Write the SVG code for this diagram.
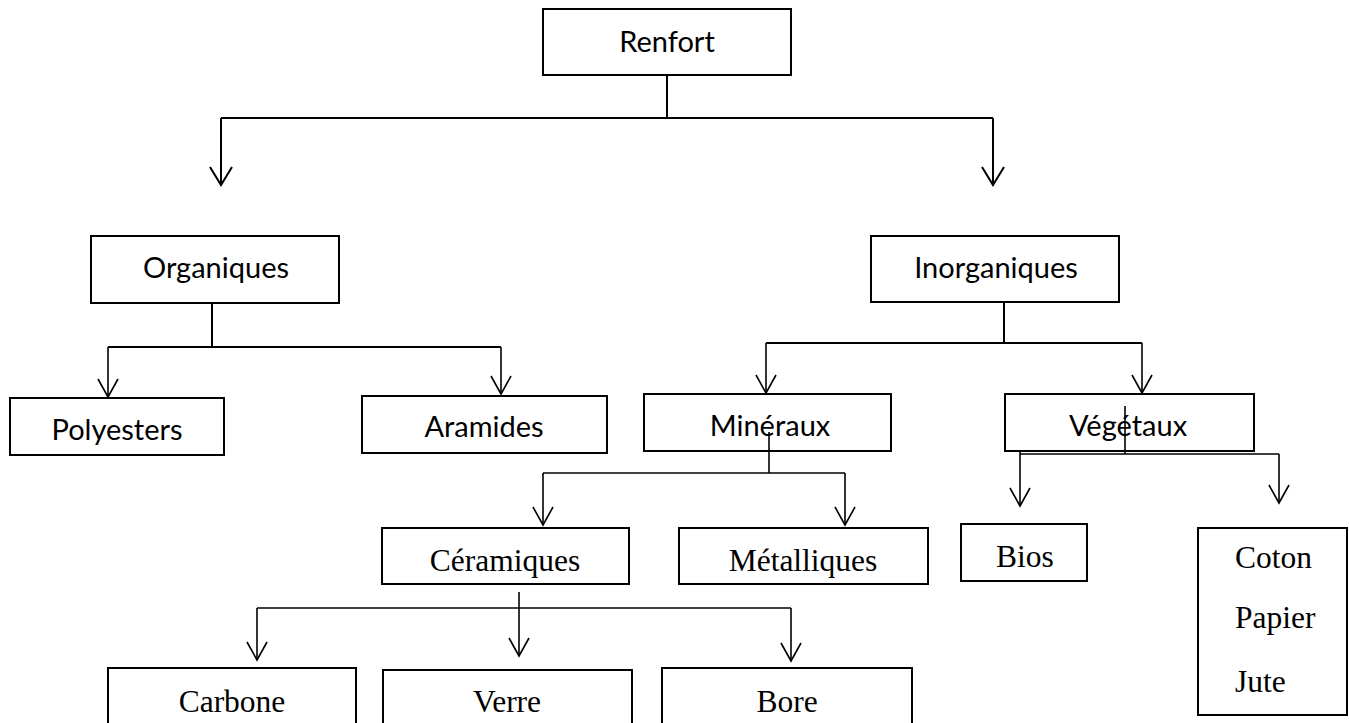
<svg xmlns="http://www.w3.org/2000/svg" width="1349" height="723" viewBox="0 0 1349 723">
<style>
.box{fill:#fff;stroke:#000;stroke-width:2}
.sans{font-family:Lato,"Open Sans","Liberation Sans",sans-serif;font-size:29px;fill:#000;text-anchor:middle}
.serif{font-family:"Liberation Serif","Times New Roman",serif;font-size:31.5px;fill:#000;text-anchor:middle}
.ln{fill:none;stroke:#000;stroke-width:2}
.ln2{fill:none;stroke:#000;stroke-width:1.6}
</style>
<defs>
<marker id="arr" markerUnits="userSpaceOnUse" markerWidth="30" markerHeight="30" refX="18" refY="0" orient="auto" overflow="visible">
<path d="M0,-11 L18,0 L0,11" fill="none" stroke="#000" stroke-width="2"/>
</marker>
<marker id="arr2" markerUnits="userSpaceOnUse" markerWidth="30" markerHeight="30" refX="18" refY="0" orient="auto" overflow="visible">
<path d="M0,-10 L18,0 L0,10" fill="none" stroke="#000" stroke-width="1.6"/>
</marker>
</defs>
<rect width="1349" height="723" fill="#fff"/>
<g id="connectors">
<path class="ln" d="M667,75 V118"/>
<path class="ln" d="M221,118 H993"/>
<path class="ln" d="M221,118 V185" marker-end="url(#arr)"/>
<path class="ln" d="M993,118 V185" marker-end="url(#arr)"/>
<path class="ln" d="M212,303 V347"/>
<path class="ln" d="M108,347 H501"/>
<path class="ln2" d="M108,347 V397" marker-end="url(#arr2)"/>
<path class="ln2" d="M501,347 V394" marker-end="url(#arr2)"/>
<path class="ln" d="M1004,302 V343"/>
<path class="ln" d="M766,343 H1142"/>
<path class="ln2" d="M766,343 V393" marker-end="url(#arr2)"/>
<path class="ln2" d="M1142,343 V393" marker-end="url(#arr2)"/>
</g>
<g id="renfort"><rect class="box" x="543" y="9" width="248" height="66"/><text class="sans" x="667" y="52">Renfort</text></g>
<g id="organiques"><rect class="box" x="91" y="236" width="248" height="67"/><text class="sans" x="216" y="278">Organiques</text></g>
<g id="inorganiques"><rect class="box" x="871" y="236" width="248" height="66"/><text class="sans" x="996" y="278">Inorganiques</text></g>
<g id="polyesters"><rect class="box" x="10" y="398" width="214" height="57"/><text class="sans" x="117" y="440">Polyesters</text></g>
<g id="aramides"><rect class="box" x="362" y="396" width="245" height="57"/><text class="sans" x="484" y="437">Aramides</text></g>
<g id="mineraux"><rect class="box" x="644" y="394" width="247" height="57"/><text class="sans" x="770" y="436">Minéraux</text></g>
<g id="vegetaux"><rect class="box" x="1005" y="394" width="249" height="57"/><text class="sans" x="1128" y="436">Végétaux</text></g>
<g id="connectors-lower">
<path class="ln2" d="M769,432 V473"/>
<path class="ln2" d="M543,473 H845"/>
<path class="ln2" d="M543,473 V525" marker-end="url(#arr2)"/>
<path class="ln2" d="M845,473 V525" marker-end="url(#arr2)"/>
<path class="ln2" d="M1125,406 V454"/>
<path class="ln2" d="M1020,454 H1279"/>
<path class="ln2" d="M1020,451 V506" marker-end="url(#arr2)"/>
<path class="ln2" d="M1279,454 V503" marker-end="url(#arr2)"/>
<path class="ln2" d="M519,592 V656" marker-end="url(#arr2)"/>
<path class="ln2" d="M257,608 H791"/>
<path class="ln2" d="M257,608 V660" marker-end="url(#arr2)"/>
<path class="ln2" d="M791,608 V661" marker-end="url(#arr2)"/>
</g>
<g id="ceramiques"><rect class="box" x="382" y="528" width="247" height="56"/><text class="serif" x="505" y="571">Céramiques</text></g>
<g id="metalliques"><rect class="box" x="679" y="528" width="249" height="56"/><text class="serif" x="803" y="571">Métalliques</text></g>
<g id="bios"><rect class="box" x="961" y="524" width="126" height="57"/><text class="serif" x="1025" y="567">Bios</text></g>
<g id="coton"><rect class="box" x="1198" y="528" width="149" height="187"/><text class="serif" x="1235" y="568" style="text-anchor:start">Coton</text><text class="serif" x="1235" y="628" style="text-anchor:start">Papier</text><text class="serif" x="1235" y="692" style="text-anchor:start">Jute</text></g>
<g id="carbone"><rect class="box" x="108" y="668" width="248" height="70"/><text class="serif" x="232" y="712">Carbone</text></g>
<g id="verre"><rect class="box" x="383" y="670" width="249" height="70"/><text class="serif" x="507" y="712">Verre</text></g>
<g id="bore"><rect class="box" x="662" y="668" width="250" height="70"/><text class="serif" x="787" y="712">Bore</text></g>
</svg>
